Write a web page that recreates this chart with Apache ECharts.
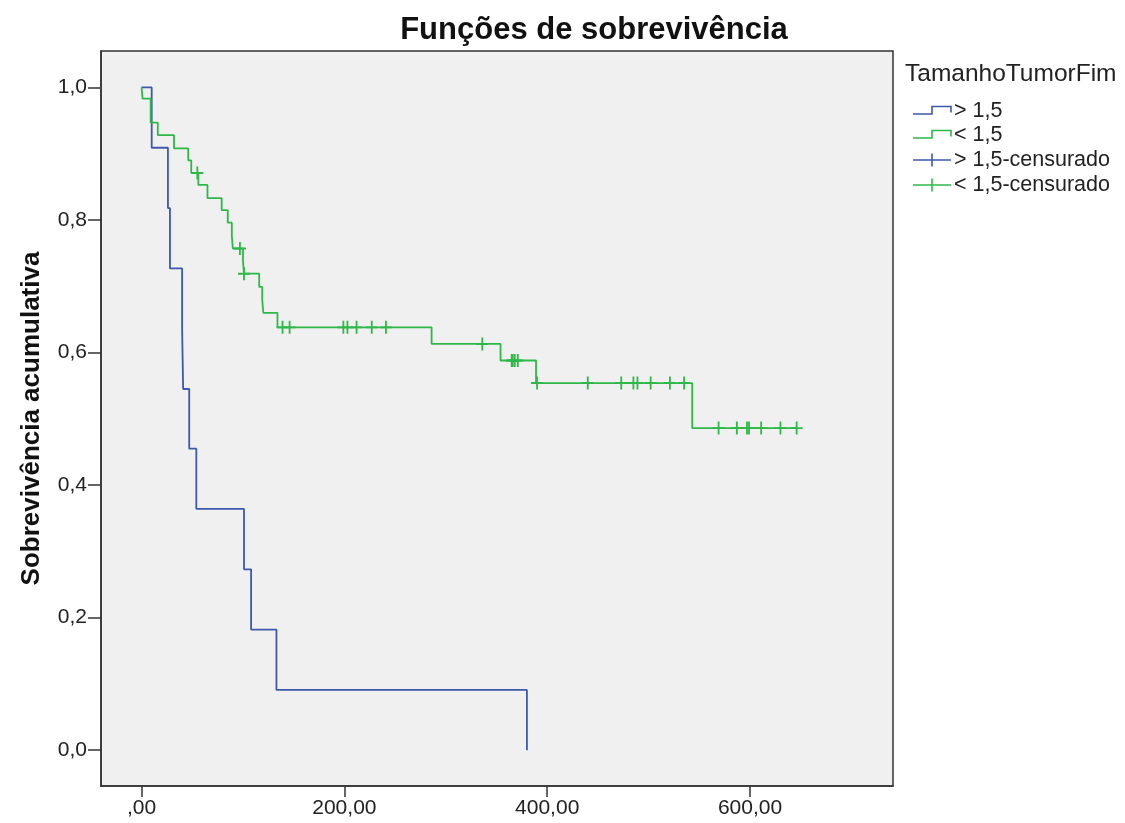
<!DOCTYPE html>
<html>
<head>
<meta charset="utf-8">
<script src="https://cdn.jsdelivr.net/npm/echarts@6/dist/echarts.min.js"></script>
<style>html,body{margin:0;padding:0;background:#fff;}#c{width:1125px;height:823px;}</style>
</head>
<body>
<div id="c"></div>
<script>
// ---- data ----
const blueTime = [0, 10, 26, 28, 40, 41, 47, 54, 101, 108, 133, 380];
const blueSurv = [1.0, 0.909, 0.818, 0.727, 0.636, 0.545, 0.455, 0.364, 0.273, 0.182, 0.091, 0.0];

const greenTime = [0, 1, 9, 16, 32, 46, 49, 56, 65, 79, 85, 89, 90, 100, 101, 116, 119, 120, 134, 286, 354, 389, 543, 646];
const greenSurv = [1.0, 0.983, 0.947, 0.928, 0.908, 0.890, 0.871, 0.853, 0.833, 0.815, 0.796, 0.776, 0.757, 0.738, 0.719, 0.699, 0.680, 0.660, 0.638, 0.613, 0.588, 0.554, 0.486, 0.486];

const greenCensorTime = [55, 97, 101, 139, 146, 199, 203, 212, 227, 241, 336, 365, 366, 368, 371, 390, 440, 473, 485, 489, 502, 521, 535, 569, 587, 597, 599, 611, 630, 646];
const greenCensorSurv = [0.871, 0.757, 0.719, 0.638, 0.638, 0.638, 0.638, 0.638, 0.638, 0.638, 0.613, 0.588, 0.588, 0.588, 0.588, 0.554, 0.554, 0.554, 0.554, 0.554, 0.554, 0.554, 0.554, 0.486, 0.486, 0.486, 0.486, 0.486, 0.486, 0.486];

const xTickValues = [0, 200, 400, 600];
const xTickLabels = [',00', '200,00', '400,00', '600,00'];
const yTickValues = [0, 0.2, 0.4, 0.6, 0.8, 1.0];
const yTickLabels = ['0,0', '0,2', '0,4', '0,6', '0,8', '1,0'];

const seriesNames = ['> 1,5', '< 1,5', '> 1,5-censurado', '< 1,5-censurado'];
const legendTitle = 'TamanhoTumorFim';
const titleText = 'Funções de sobrevivência';
const yAxisName = 'Sobrevivência acumulativa';

// ---- chart ----
const BLUE = '#3E58AC', GREEN = '#2EB848';
const FONT = '"Liberation Sans", Arial, sans-serif';
const zip = (a, b) => a.map((v, i) => [v, b[i]]);
const lab = (vals, labels) => v => { const i = vals.findIndex(t => Math.abs(t - v) < 1e-6); return i >= 0 ? labels[i] : ''; };
const crossPath = 'path://M5.1,0h1.8v12h-1.8z M0,5.1h12v1.8h-12z';

const chart = echarts.init(document.getElementById('c'), null, {renderer: 'canvas'});

const legendRows = [111, 135, 160, 185];
const legendGraphics = [];
legendGraphics.push({type: 'text', left: 905, top: 62, style: {text: legendTitle, font: '24.5px ' + FONT, fill: '#222'}});
seriesNames.forEach((name, i) => {
  const y = legendRows[i];
  const col = i % 2 === 0 ? BLUE : GREEN;
  if (i < 2) {
    legendGraphics.push({type: 'polyline', shape: {points: [[913, y + 3], [932, y + 3], [932, y - 4.5], [951, y - 4.5], [951, y + 1.5]]}, style: {stroke: col, lineWidth: 1.6, fill: null}});
  } else {
    legendGraphics.push({type: 'polyline', shape: {points: [[913, y], [951, y]]}, style: {stroke: col, lineWidth: 1.6}});
    legendGraphics.push({type: 'polyline', shape: {points: [[932, y - 6.5], [932, y + 6.5]]}, style: {stroke: col, lineWidth: 1.6}});
  }
  legendGraphics.push({type: 'text', left: 954, top: y - 11, style: {text: name, font: '21.5px ' + FONT, fill: '#222'}});
});

chart.setOption({
  animation: false,
  backgroundColor: '#ffffff',
  title: {
    text: titleText, left: 589, top: 10, textAlign: 'center',
    textStyle: {fontFamily: FONT, fontWeight: 'bold', fontSize: 31, color: '#111'}
  },
  grid: {left: 101, right: 232, top: 51, bottom: 37, containLabel: false, outerBoundsMode: 'none', show: true, backgroundColor: '#F0F0F0', borderColor: '#333', borderWidth: 1.5},
  xAxis: {
    type: 'value', min: -40, max: 741,
    axisLine: {show: true, onZero: false, lineStyle: {color: '#333', width: 1.5}},
    axisTick: {show: true, customValues: xTickValues, length: 11, lineStyle: {color: '#333', width: 1.5}},
    axisLabel: {customValues: xTickValues, formatter: lab(xTickValues, xTickLabels), fontFamily: FONT, fontSize: 21, color: '#222', margin: 12},
    splitLine: {show: false}
  },
  yAxis: {
    type: 'value', min: -0.054, max: 1.055,
    name: yAxisName, nameLocation: 'middle', nameGap: 56, nameRotate: 90,
    nameTextStyle: {fontFamily: FONT, fontWeight: 'bold', fontSize: 26, color: '#111'},
    axisLine: {show: true, onZero: false, lineStyle: {color: '#333', width: 1.5}},
    axisTick: {show: true, customValues: yTickValues, length: 13, lineStyle: {color: '#333', width: 1.5}},
    axisLabel: {customValues: yTickValues, formatter: lab(yTickValues, yTickLabels), fontFamily: FONT, fontSize: 21, color: '#222', margin: 14},
    splitLine: {show: false}
  },
  series: [
    {name: seriesNames[0], type: 'line', step: 'end', data: zip(blueTime, blueSurv), showSymbol: false, lineStyle: {color: BLUE, width: 1.8}, z: 3},
    {name: seriesNames[1], type: 'line', step: 'end', data: zip(greenTime, greenSurv), showSymbol: false, lineStyle: {color: GREEN, width: 1.8}, z: 3},
    {name: seriesNames[3], type: 'scatter', data: zip(greenCensorTime, greenCensorSurv), symbol: crossPath, symbolSize: [12, 13], itemStyle: {color: GREEN, opacity: 1}, z: 4}
  ],
  graphic: legendGraphics
});
</script>
</body>
</html>
